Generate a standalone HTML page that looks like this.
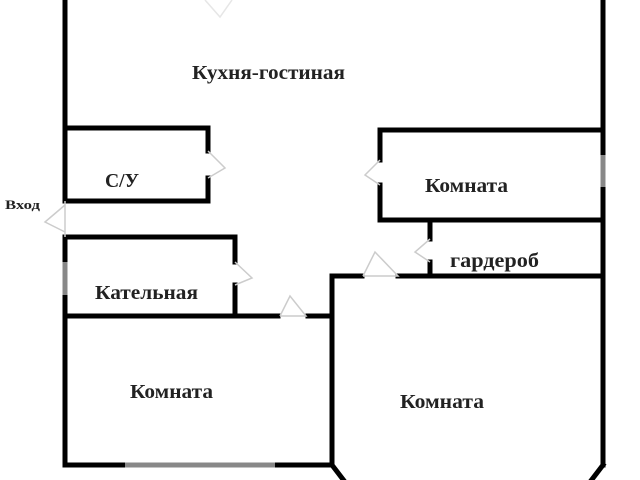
<!DOCTYPE html>
<html><head><meta charset="utf-8"><style>
html,body{margin:0;padding:0;background:#fff;width:640px;height:480px;overflow:hidden}
svg{display:block}
text{font-family:"Liberation Serif","DejaVu Serif",serif;font-weight:bold;fill:#222}
</style></head><body>
<svg width="640" height="480" viewBox="0 0 640 480" xmlns="http://www.w3.org/2000/svg">
<g stroke="#000" stroke-width="5" stroke-linecap="square" fill="none">
<line x1="65" y1="0" x2="65" y2="201"/>
<line x1="65" y1="128" x2="208" y2="128"/>
<line x1="208" y1="128" x2="208" y2="151"/>
<line x1="208" y1="178" x2="208" y2="201"/>
<line x1="65" y1="201" x2="208" y2="201"/>
<line x1="65" y1="237" x2="235" y2="237"/>
<line x1="235" y1="237" x2="235" y2="262"/>
<line x1="235" y1="285" x2="235" y2="316"/>
<line x1="65" y1="237" x2="65" y2="465"/>
<line x1="65" y1="316" x2="278" y2="316"/>
<line x1="308" y1="316" x2="332" y2="316"/>
<line x1="332" y1="277" x2="332" y2="465"/>
<line x1="65" y1="465" x2="332" y2="465"/>
<line x1="332" y1="465" x2="345" y2="482"/>
<line x1="603" y1="0" x2="603" y2="465"/>
<line x1="603" y1="465" x2="590" y2="482"/>
<line x1="380" y1="130" x2="603" y2="130"/>
<line x1="380" y1="130" x2="380" y2="160"/>
<line x1="380" y1="185" x2="380" y2="220"/>
<line x1="380" y1="220" x2="603" y2="220"/>
<line x1="430" y1="220" x2="430" y2="239"/>
<line x1="430" y1="262" x2="430" y2="275"/>
<line x1="332" y1="276" x2="362" y2="276"/>
<line x1="398" y1="276" x2="603" y2="276"/>
</g>
<g stroke="#888" stroke-width="5">
<line x1="125" y1="465" x2="275" y2="465"/>
<line x1="65" y1="262" x2="65" y2="295"/>
<line x1="603" y1="155" x2="603" y2="187"/>
</g>
<g stroke="#ccc" stroke-width="1.5" fill="none">
<line x1="65" y1="201" x2="65" y2="237"/>
<path d="M65 205 L45 222 L65 232"/>
<path d="M208 151 L225 168 L208 178"/>
<path d="M235 262 L252 278 L235 285"/>
<path d="M280 316 L290 296 L306 316 L280 316"/>
<path d="M380 160 L365 175 L380 185"/>
<path d="M430 239 L415 252 L430 262"/>
<path d="M363 276 L375 252 L398 276 L363 276"/>
</g>
<path d="M205 0 L220 17 L232 0" stroke="#e6e6e6" stroke-width="1.5" fill="none"/>
<text x="192" y="79" font-size="20" textLength="153" lengthAdjust="spacingAndGlyphs">Кухня-гостиная</text>
<text x="105" y="187" font-size="20" textLength="34" lengthAdjust="spacingAndGlyphs">С/У</text>
<text x="5" y="209" font-size="13" textLength="35" lengthAdjust="spacingAndGlyphs">Вход</text>
<text x="95" y="299" font-size="20" textLength="103" lengthAdjust="spacingAndGlyphs">Катeльная</text>
<text x="425" y="192" font-size="20" textLength="83" lengthAdjust="spacingAndGlyphs">Комната</text>
<text x="450" y="267" font-size="20" textLength="89" lengthAdjust="spacingAndGlyphs">гардероб</text>
<text x="130" y="398" font-size="20" textLength="83" lengthAdjust="spacingAndGlyphs">Комната</text>
<text x="400" y="408" font-size="20" textLength="84" lengthAdjust="spacingAndGlyphs">Комната</text>
</svg>
</body></html>
